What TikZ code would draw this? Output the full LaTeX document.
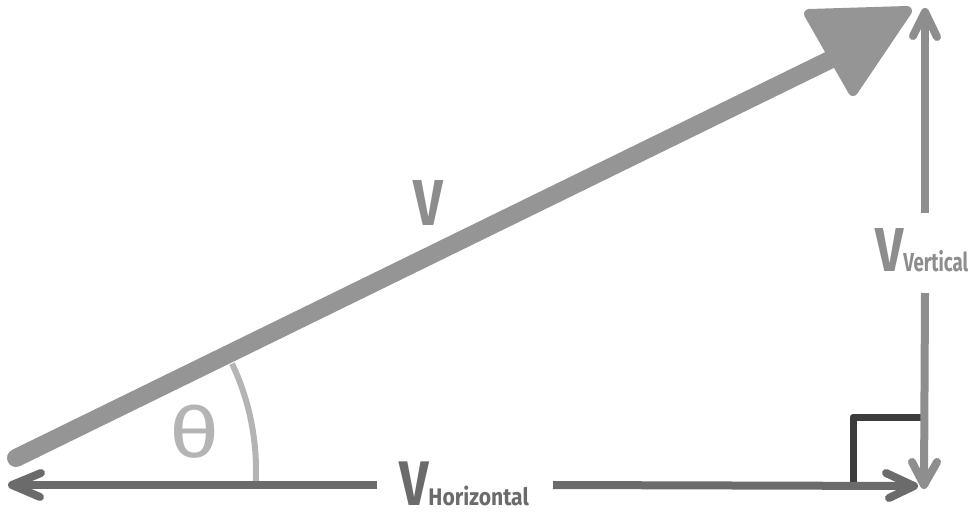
\documentclass[tikz,border=0pt]{standalone}
\usepackage{fontspec}
\setmainfont{Fira Sans}
\definecolor{mainGray}{HTML}{959595}
\definecolor{horizGray}{HTML}{6B6B6B}
\definecolor{vertGray}{HTML}{8E8E8E}
\definecolor{markDark}{HTML}{3C3C3C}
\definecolor{arcGray}{HTML}{B4B4B4}
\definecolor{vLabel}{HTML}{8D8D8D}
\begin{document}
\begin{tikzpicture}[x=1pt,y=-1pt,
  vecline/.style={draw=mainGray,line width=18pt,line cap=round},
  vechead/.style={fill=mainGray,draw=mainGray,line width=10pt,line join=round},
  hseg/.style={draw=horizGray,line width=8pt},
  hchev/.style={draw=horizGray,line width=8pt,line cap=round,line join=round},
  vseg/.style={draw=vertGray,line width=8pt},
  vchev/.style={draw=vertGray,line width=8pt,line cap=round,line join=round},
  rightmark/.style={draw=markDark,line width=7pt,line join=round},
  anglearc/.style={draw=arcGray,line width=6pt},
  lbl/.style={inner sep=0pt,outer sep=0pt},
  bigV/.style={font=\bfseries\fontsize{65}{65}\selectfont},
]
\useasboundingbox (0,0) rectangle (971,513);

% coordinates
\coordinate (VS) at (16,458);
\coordinate (VE) at (850,50);
\coordinate (T1) at (809,14);
\coordinate (T2) at (907,11);
\coordinate (T3) at (853,91);

\coordinate (HL) at (12,485);
\coordinate (HLa) at (41,473);
\coordinate (HLb) at (40,497);
\coordinate (HgapL) at (377,485);
\coordinate (HgapR) at (553,485);
\coordinate (HR) at (914,486);
\coordinate (HRa) at (886,473);
\coordinate (HRb) at (889,498);

\coordinate (VT) at (925,12);
\coordinate (VTa) at (913,36);
\coordinate (VTb) at (937,37);
\coordinate (VgapT) at (925,213);
\coordinate (VgapB) at (925,293);
\coordinate (VB) at (924,485);
\coordinate (VBa) at (912,462);
\coordinate (VBb) at (937,462);

\coordinate (RA1) at (853,485);
\coordinate (RA2) at (921,417);

\coordinate (AC) at (8,470);

% right angle mark
\draw[rightmark] (RA1) |- (RA2);

% angle arc
\draw[anglearc] (AC) ++(3.3:248) arc[start angle=3.3, end angle=-25.4, radius=248];

% main vector
\draw[vecline] (VS) -- (VE);
\filldraw[vechead] (T1) -- (T2) -- (T3) -- cycle;

% horizontal component
\draw[hseg] (HL) -- (HgapL);
\draw[hseg] (HgapR) -- (HR);
\draw[hchev] (HLa) -- (HL) -- (HLb);
\draw[hchev] (HRa) -- (HR) -- (HRb);

% vertical component
\draw[vseg] (VT) -- (VgapT);
\draw[vseg] (VgapB) -- (VB);
\draw[vchev] (VTa) -- (VT) -- (VTb);
\draw[vchev] (VBa) -- (VB) -- (VBb);

% labels
\node[lbl, text=vLabel, bigV, anchor=base] (labV) at (428,225) {\scalebox{0.8}[1]{V}};
\node[lbl, text=arcGray, font=\fontsize{70}{70}\selectfont, anchor=center] (labTheta) at (195,432) {\scalebox{1.25}[1]{θ}};
\node[lbl, text=horizGray, anchor=base west] (labH) at (399,505)
  {\scalebox{0.82}[1]{\bfseries\fontsize{63}{63}\selectfont V}\scalebox{0.88}[1]{\bfseries\fontsize{24}{24}\selectfont Horizontal}};
\node[lbl, text=vLabel, anchor=base west] (labVert) at (875,271)
  {\scalebox{0.8}[1]{\bfseries\fontsize{62}{62}\selectfont V}\scalebox{0.72}[1]{\bfseries\fontsize{26}{26}\selectfont Vertical}};
\end{tikzpicture}
\end{document}
